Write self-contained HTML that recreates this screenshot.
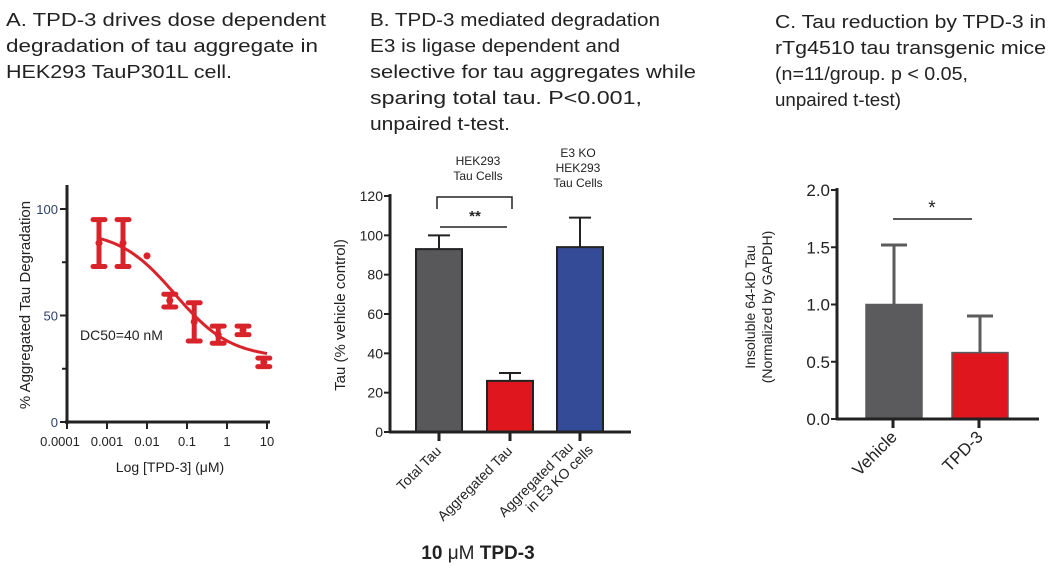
<!DOCTYPE html>
<html><head><meta charset="utf-8"><style>
body{margin:0;background:#fff;width:1052px;height:588px;overflow:hidden}
svg{display:block}
text{font-family:"Liberation Sans",sans-serif}
.t{font-family:"Liberation Sans Narrow","Liberation Sans",sans-serif;font-size:18px;fill:#222}
</style></head><body>
<svg id="s" width="1052" height="588" xmlns="http://www.w3.org/2000/svg">
<g class="t">
<text x="6" y="26" textLength="320" lengthAdjust="spacingAndGlyphs">A. TPD-3 drives dose dependent</text>
<text x="6" y="52" textLength="312" lengthAdjust="spacingAndGlyphs">degradation of tau aggregate in</text>
<text x="6" y="78" textLength="226" lengthAdjust="spacingAndGlyphs">HEK293 TauP301L cell.</text>
</g>
<g class="t">
<text x="370" y="26" textLength="290" lengthAdjust="spacingAndGlyphs">B. TPD-3 mediated degradation</text>
<text x="370" y="52" textLength="250" lengthAdjust="spacingAndGlyphs">E3 is ligase dependent and</text>
<text x="370" y="78" textLength="326" lengthAdjust="spacingAndGlyphs">selective for tau aggregates while</text>
<text x="370" y="104" textLength="272" lengthAdjust="spacingAndGlyphs">sparing total  tau. P&lt;0.001,</text>
<text x="370" y="130" textLength="140" lengthAdjust="spacingAndGlyphs">unpaired t-test.</text>
</g>
<g class="t">
<text x="775" y="28" textLength="271" lengthAdjust="spacingAndGlyphs">C. Tau reduction by TPD-3 in</text>
<text x="775" y="54" textLength="271" lengthAdjust="spacingAndGlyphs">rTg4510 tau transgenic mice</text>
<text x="775" y="80" textLength="193" lengthAdjust="spacingAndGlyphs">(n=11/group.  p &lt; 0.05,</text>
<text x="775" y="106" textLength="126" lengthAdjust="spacingAndGlyphs">unpaired t-test)</text>
</g>
<g id="A"></g><g id="B"></g><g id="C"></g>
</svg>
<script>
const NS="http://www.w3.org/2000/svg";
function mk(p,t,a,txt){const e=document.createElementNS(NS,t);for(const k in a)e.setAttribute(k,a[k]);if(txt!==undefined)e.textContent=txt;p.appendChild(e);return e;}

// Panel A data
const aLogX=[-3.2,-2.6,-2.0,-1.43,-0.82,-0.22,0.4,0.92];
const aMean=[84,84,78,57,47,41,43,28];
const aErr=[11,11,0,3,9,4,2,2];
const aFitTop=90, aFitBottom=30, aFitLogEC50=-1.3, aFitHill=0.62;
const aYTicks=[0,50,100];
const aXTickLabels=["0.0001","0.001","0.01","0.1","1","10"];

// Panel B data
const bCats=["Total Tau","Aggregated Tau","Aggregated Tau|in E3 KO cells"];
const bVals=[93,26,94];
const bErr=[7,4,15];
const bYTicks=[0,20,40,60,80,100,120];

// Panel C data
const cCats=["Vehicle","TPD-3"];
const cVals=[1.0,0.58];
const cErr=[0.52,0.32];
const cYTicks=[0,0.5,1.0,1.5,2.0];

// ---- Panel A ----
(function(){
const g=document.getElementById('A');
const xA=v=>67+(v+4)*40, yA=v=>422-v*2.13;
const red="#d9232b";
let e=mk(g,'line',{x1:67,y1:185,x2:67,y2:424,stroke:'#222','stroke-width':3});

e=mk(g,'line',{x1:65,y1:422,x2:270,y2:422,stroke:'#222','stroke-width':3});

[25,75].forEach(v=>mk(g,'line',{x1:62,x2:67,y1:yA(v),y2:yA(v),stroke:'#222','stroke-width':2}));
aYTicks.forEach(v=>{mk(g,'line',{x1:60,x2:67,y1:yA(v),y2:yA(v),stroke:'#222','stroke-width':2});
 e=mk(g,'text',{x:58,y:yA(v)+5,'text-anchor':'end','font-size':13,fill:'#2d3f6b'},String(v));
 });
aXTickLabels.forEach((l,i)=>{const x=xA(i-4);mk(g,'line',{x1:x,x2:x,y1:422,y2:429,stroke:'#222','stroke-width':2});
 e=mk(g,'text',{x:x+(i==0?-7:0),y:446,'text-anchor':'middle','font-size':13,fill:'#222'},l);
 });
e=mk(g,'text',{x:0,y:0,transform:'translate(30,305) rotate(-90)','text-anchor':'middle','font-size':15,fill:'#222'},'% Aggregated Tau Degradation');

e=mk(g,'text',{x:170,y:472,'text-anchor':'middle','font-size':14,fill:'#222'},'Log [TPD-3] (μM)');

e=mk(g,'text',{x:80,y:340,'font-size':14,fill:'#222'},'DC50=40 nM');

let d='';for(let lx=-3.25;lx<=1.0;lx+=0.05){const v=aFitBottom+(aFitTop-aFitBottom)/(1+Math.pow(10,(lx-aFitLogEC50)*aFitHill));d+=(d?'L':'M')+xA(lx).toFixed(1)+','+yA(v).toFixed(1);}
e=mk(g,'path',{d:d,fill:'none',stroke:red,'stroke-width':3});

aLogX.forEach((lx,i)=>{const x=xA(lx),m=aMean[i],er=aErr[i];
 const gg=mk(g,'g',{});
 
 if(er>0){mk(gg,'line',{x1:x,x2:x,y1:yA(m+er),y2:yA(m-er),stroke:red,'stroke-width':5});
  [m+er,m-er].forEach(v=>mk(gg,'line',{x1:x-6,x2:x+6,y1:yA(v),y2:yA(v),stroke:red,'stroke-width':5,'stroke-linecap':'round'}));}
 mk(gg,'circle',{cx:x,cy:yA(m),r:3.5,fill:red});});
})();

// ---- Panel B ----
(function(){
const g=document.getElementById('B');
const yB=v=>432-v*236/120;
const xs=[439,510,580],w=46,cols=['#58585a','#e0161e','#344b97'];
let e;
bVals.forEach((v,i)=>{const x=xs[i];
 e=mk(g,'line',{x1:x,x2:x,y1:yB(v+bErr[i]),y2:yB(v),stroke:'#222','stroke-width':2});
 mk(g,'line',{x1:x-11,x2:x+11,y1:yB(v+bErr[i]),y2:yB(v+bErr[i]),stroke:'#222','stroke-width':2});
 e=mk(g,'rect',{x:x-w/2,y:yB(v),width:w,height:yB(0)-yB(v),fill:cols[i],stroke:'#222','stroke-width':2});
 
 mk(g,'line',{x1:x,x2:x,y1:432,y2:441,stroke:'#222','stroke-width':3});
 const parts=bCats[i].split('|');
 const t=mk(g,'text',{transform:`translate(${x+3},452) rotate(-45)`,'text-anchor':'end','font-size':14,fill:'#222'});
 
 parts.forEach((p,j)=>mk(t,'tspan',{x:0,dy:j?16:0},p));
 if(parts.length>1){t.setAttribute('transform',`translate(${x-6},448) rotate(-45)`);t.children[1].setAttribute('x',12);}
});
e=mk(g,'line',{x1:390,y1:194,x2:390,y2:433,stroke:'#222','stroke-width':3});

e=mk(g,'line',{x1:389,y1:432,x2:631,y2:432,stroke:'#222','stroke-width':3});

bYTicks.forEach(v=>{mk(g,'line',{x1:384,x2:390,y1:yB(v),y2:yB(v),stroke:'#222','stroke-width':2});
 e=mk(g,'text',{x:383,y:yB(v)+5,'text-anchor':'end','font-size':14,fill:'#222'},String(v));
 });
e=mk(g,'text',{transform:'translate(345,315) rotate(-90)','text-anchor':'middle','font-size':15,fill:'#222'},'Tau (% vehicle control)');

e=mk(g,'path',{d:'M437,209 L437,197 L512,197 L512,209',fill:'none',stroke:'#222','stroke-width':1.5});

mk(g,'text',{x:475,y:221,'text-anchor':'middle','font-size':15,'font-weight':'bold',fill:'#222'},'**');
mk(g,'line',{x1:440,x2:507,y1:227,y2:227,stroke:'#222','stroke-width':1.5});
const h1=mk(g,'text',{x:478,y:165,'text-anchor':'middle','font-size':12,fill:'#222'});

mk(h1,'tspan',{x:478,dy:0},'HEK293');mk(h1,'tspan',{x:478,dy:15},'Tau Cells');
const h2=mk(g,'text',{x:578,y:157,'text-anchor':'middle','font-size':12,fill:'#222'});

mk(h2,'tspan',{x:578,dy:0},'E3 KO');mk(h2,'tspan',{x:578,dy:15},'HEK293');mk(h2,'tspan',{x:578,dy:15},'Tau Cells');
e=mk(g,'text',{x:478,y:559,'text-anchor':'middle','font-size':19,'font-weight':'bold',fill:'#222'});

mk(e,'tspan',{},'10 ');mk(e,'tspan',{'font-weight':'normal'},'μM');mk(e,'tspan',{},' TPD-3');
})();

// ---- Panel C ----
(function(){
const g=document.getElementById('C');
const yC=v=>419-v*114.5;
const xs=[894,980],w=56,cols=['#5b5b5d','#e0161e'];
let e;
cVals.forEach((v,i)=>{const x=xs[i];
 mk(g,'line',{x1:x,x2:x,y1:yC(v+cErr[i]),y2:yC(v),stroke:'#5b5b5d','stroke-width':3});
 mk(g,'line',{x1:x-13,x2:x+13,y1:yC(v+cErr[i]),y2:yC(v+cErr[i]),stroke:'#5b5b5d','stroke-width':3});
 e=mk(g,'rect',{x:x-w/2,y:yC(v),width:w,height:yC(0)-yC(v),fill:cols[i],stroke:'#5b5b5d','stroke-width':1.5});
 
 mk(g,'line',{x1:x-1,x2:x-1,y1:419,y2:428,stroke:'#222','stroke-width':3});
 e=mk(g,'text',{transform:`translate(${x+4},438) rotate(-45)`,'text-anchor':'end','font-size':17,fill:'#222'},cCats[i]);
 
});
e=mk(g,'line',{x1:837,y1:188,x2:837,y2:420,stroke:'#222','stroke-width':3});

e=mk(g,'line',{x1:836,y1:419,x2:1039,y2:419,stroke:'#222','stroke-width':3});

cYTicks.forEach(v=>{mk(g,'line',{x1:831,x2:837,y1:yC(v),y2:yC(v),stroke:'#222','stroke-width':2});
 e=mk(g,'text',{x:830,y:yC(v)+6,'text-anchor':'end','font-size':17,fill:'#222'},v.toFixed(1));
 });
e=mk(g,'text',{transform:'translate(755,307) rotate(-90)','text-anchor':'middle','font-size':14,fill:'#222'});

mk(e,'tspan',{x:0,dy:0},'Insoluble 64-kD Tau');mk(e,'tspan',{x:0,dy:17},'(Normalized by GAPDH)');
mk(g,'line',{x1:893,x2:972,y1:219,y2:219,stroke:'#222','stroke-width':1.5});
e=mk(g,'text',{x:932,y:214,'text-anchor':'middle','font-size':19,fill:'#222'},'*');

})();
</script>
</body></html>
